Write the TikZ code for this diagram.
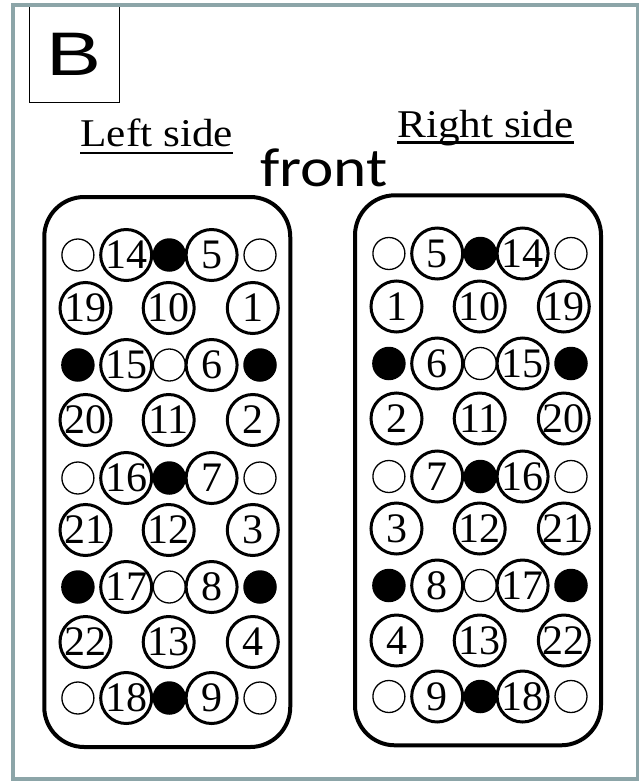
\documentclass[tikz,border=0pt]{standalone}
\usepackage{fontspec}
\usepackage{graphicx}
\setmainfont{Liberation Serif}
\newfontfamily\arialf{Liberation Sans}
\newfontfamily\carlf{Carlito}
\definecolor{framec}{RGB}{140,165,168}
\begin{document}
\begin{tikzpicture}[x=1pt,y=-1pt,
  bigc/.style={circle,draw,line width=3pt,minimum size=51pt,inner sep=0pt,font=\fontsize{42}{42}\selectfont},
  openc/.style={circle,draw,line width=1.3pt,minimum size=32pt,inner sep=0pt},
  blackc/.style={circle,fill=black,minimum size=33.5pt,inner sep=0pt},
  panel/.style={draw,line width=4pt,rounded corners=40pt,minimum width=246pt,minimum height=550pt,inner sep=0pt},
  sidelbl/.style={anchor=base,inner sep=0pt,font=\fontsize{39.3}{40}\selectfont},
  ul/.style={line width=2.5pt}]
\useasboundingbox (0,0) rectangle (639,782);
\fill[white] (0,0) rectangle (639,782);
% B box
\node[draw,line width=1pt,minimum width=90pt,minimum height=97pt,inner sep=0pt,
      font=\arialf\fontsize{61.5}{62}\selectfont] (boxB) at (74.3,54) {\scalebox{1.34}[1]{B}};
% frame
\draw[framec,line width=4pt] (13,5) rectangle (638,779);
% labels
\node[sidelbl] (leftlbl) at (156.7,146.7) {\scalebox{1.1}[1]{Left side}};
\draw[ul] ([yshift=-6.3pt]leftlbl.base west) -- ([yshift=-6.3pt]leftlbl.base east);
\node[sidelbl] (rightlbl) at (485.5,137.7) {\scalebox{1.1}[1]{Right side}};
\draw[ul] ([yshift=-5pt]rightlbl.base west) -- ([yshift=-5pt]rightlbl.base east);
\node[anchor=base,inner sep=0pt,font=\carlf\fontsize{55}{55}\selectfont] (frontlbl) at (324,186.7) {\scalebox{1.15}[1]{front}};
% panels
\node[panel] (leftpanel) at (167.25,472) {};
\node[panel] (rightpanel) at (478,470.3) {};
% small circles
\foreach \dx/\dy/\s in {0/0/L, 311/-1.5/R}{
  \foreach \r/\y/\ta/\tb/\tc in {1/255/openc/blackc/openc, 3/365/blackc/openc/blackc,
      5/478/openc/blackc/openc, 7/587/blackc/openc/blackc, 9/698/openc/blackc/openc}{
    \node[\ta] (\s-s\r-a) at (77.9+\dx,\y+\dy) {};
    \node[\tb] (\s-s\r-b) at (169.3+\dx,\y+\dy) {};
    \node[\tc] (\s-s\r-c) at (260+\dx,\y+\dy) {};
  }
}
% big numbered circles, odd rows
\foreach \y/\a/\b in {255/14/5, 365/15/6, 478/16/7, 587/17/8, 698/18/9}{
  \node[bigc] (L\a) at (126.2,\y) {\a};
  \node[bigc] (L\b) at (211.6,\y) {\b};
  \node[bigc] (R\b) at (126.2+311,\y-1.5) {\b};
  \node[bigc] (R\a) at (211.6+311,\y-1.5) {\a};
}
% big numbered circles, even rows
\foreach \y/\a/\b/\c in {308/19/10/1, 420/20/11/2, 530/21/12/3, 642/22/13/4}{
  \node[bigc] (L\a) at (85.5,\y) {\a};
  \node[bigc] (L\b) at (168.7,\y) {\b};
  \node[bigc] (L\c) at (252.8,\y) {\c};
  \node[bigc] (R\c) at (85.5+311,\y-1.5) {\c};
  \node[bigc] (R\b) at (168.7+311,\y-1.5) {\b};
  \node[bigc] (R\a) at (252.8+311,\y-1.5) {\a};
}
\end{tikzpicture}
\end{document}
